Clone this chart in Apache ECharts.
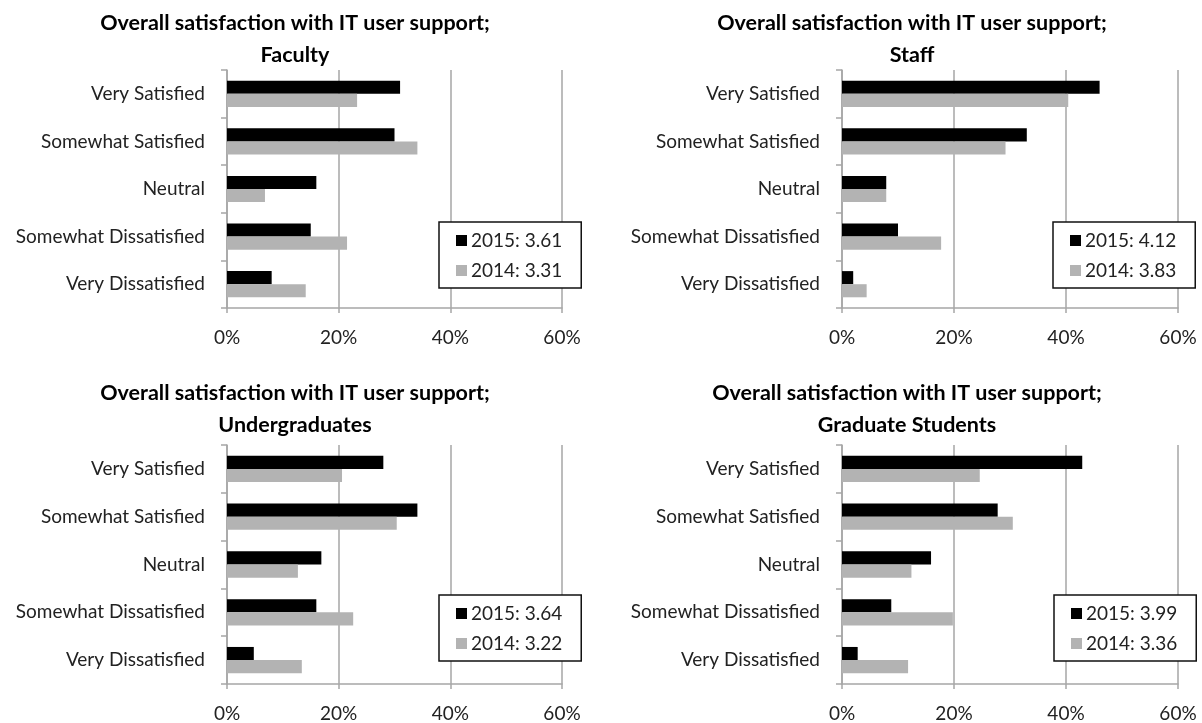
<!DOCTYPE html>
<html>
<head>
<meta charset="utf-8">
<script src="https://cdn.jsdelivr.net/npm/echarts@6/dist/echarts.min.js"></script>
<style>
html,body{margin:0;padding:0;background:#fff;}
#chart{width:1202px;height:723px;}
</style>
</head>
<body>
<div id="chart"></div>
<script>
// ---- data ----
const categories = ['Very Satisfied', 'Somewhat Satisfied', 'Neutral', 'Somewhat Dissatisfied', 'Very Dissatisfied'];
const groups = ['Faculty', 'Staff', 'Undergraduates', 'Graduate Students'];
const xTicks = [0, 20, 40, 60];
const scores2015 = [3.61, 4.12, 3.64, 3.99];
const scores2014 = [3.31, 3.83, 3.22, 3.36];
const faculty2015 = [31, 30, 16, 15, 8];
const faculty2014 = [23.3, 34.1, 6.8, 21.5, 14.1];
const staff2015 = [46, 33, 7.9, 10, 2];
const staff2014 = [40.4, 29.2, 7.9, 17.7, 4.4];
const undergrad2015 = [28, 34.1, 16.9, 16, 4.8];
const undergrad2014 = [20.6, 30.4, 12.7, 22.6, 13.4];
const grad2015 = [42.9, 27.8, 15.9, 8.8, 2.8];
const grad2014 = [24.6, 30.5, 12.4, 19.8, 11.8];
const values2015 = [faculty2015, staff2015, undergrad2015, grad2015];
const values2014 = [faculty2014, staff2014, undergrad2014, grad2014];

// ---- layout ----
const FONT = 'Lato';
const gridPos = [
  {left: 227, top: 70, width: 335, height: 238},
  {left: 842, top: 70, width: 336, height: 238},
  {left: 227, top: 445, width: 335, height: 239},
  {left: 842, top: 445, width: 336, height: 239}
];
const titlePos = [{x: 290, y: 2}, {x: 907, y: 2}, {x: 290, y: 372}, {x: 902, y: 372}];
const legendPos = [{x: 439, y: 222}, {x: 1053, y: 222}, {x: 439, y: 595}, {x: 1054, y: 595}];
const gridColor = '#a6a6a6';
const black = '#000000';
const gray = '#b3b3b3';

const grid = [], xAxis = [], yAxis = [], series = [], title = [], legend = [];
groups.forEach((g, i) => {
  grid.push(Object.assign({containLabel: false}, gridPos[i]));
  title.push({
    text: 'Overall satisfaction with IT user support;\n' + g,
    left: titlePos[i].x, top: titlePos[i].y, textAlign: 'center',
    textStyle: {fontFamily: FONT, fontWeight: 'bold', fontSize: 21.5, lineHeight: 32, color: '#000'}
  });
  xAxis.push({
    type: 'value', gridIndex: i, min: 0, max: 60, interval: 20,
    axisLine: {show: true, lineStyle: {color: gridColor, width: 1.5}},
    axisTick: {show: true, length: 5, lineStyle: {color: gridColor, width: 1.5}},
    splitLine: {show: true, lineStyle: {color: gridColor, width: 1.5}},
    axisLabel: {margin: 20, fontFamily: FONT, fontSize: 19, color: '#222',
      formatter: v => (xTicks.indexOf(v) >= 0 ? v + '%' : '')}
  });
  yAxis.push({
    type: 'category', gridIndex: i, data: categories, inverse: true,
    axisLine: {show: true, lineStyle: {color: gridColor, width: 1.5}},
    axisTick: {show: true, length: 6, lineStyle: {color: gridColor, width: 1.5}},
    axisLabel: {margin: 22, fontFamily: FONT, fontSize: 19, color: '#222'}
  });
  const n15 = '2015: ' + scores2015[i].toFixed(2);
  const n14 = '2014: ' + scores2014[i].toFixed(2);
  series.push({
    type: 'bar', name: n15, xAxisIndex: i, yAxisIndex: i, data: values2015[i],
    itemStyle: {color: black}, barGap: '0%', barCategoryGap: '45%', silent: true
  });
  series.push({
    type: 'bar', name: n14, xAxisIndex: i, yAxisIndex: i, data: values2014[i],
    itemStyle: {color: gray}, barGap: '0%', barCategoryGap: '45%', silent: true
  });
  legend.push({
    data: [n15, n14], orient: 'vertical', left: legendPos[i].x, top: legendPos[i].y,
    backgroundColor: '#fff', borderColor: '#111', borderWidth: 1.5,
    padding: [9, 19, 8, 17], itemGap: 11, itemWidth: 11, itemHeight: 11, icon: 'rect',
    selectedMode: false,
    textStyle: {fontFamily: FONT, fontSize: 19, color: '#222', padding: [0, 0, 0, -1]}
  });
});

const chart = echarts.init(document.getElementById('chart'), null, {renderer: 'canvas'});
chart.setOption({
  animation: false,
  backgroundColor: '#fff',
  title, legend, grid, xAxis, yAxis, series
});
</script>
</body>
</html>
